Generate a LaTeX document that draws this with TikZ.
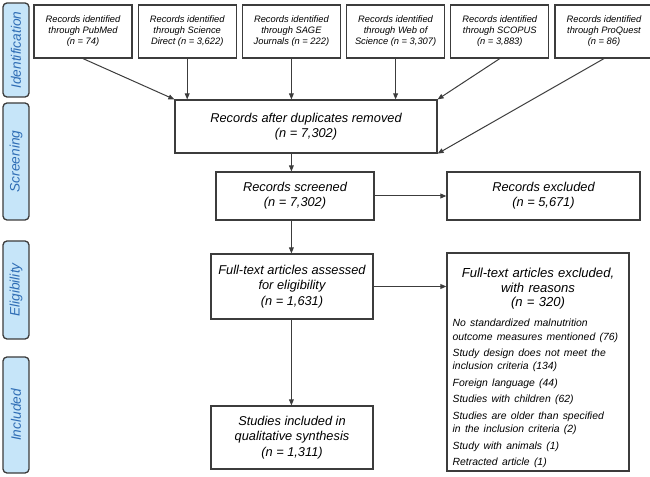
\documentclass[tikz,border=0pt]{standalone}
\usepackage{fontspec}
\setmainfont{Liberation Sans}
\usetikzlibrary{arrows.meta,positioning}

\definecolor{phasefill}{HTML}{C6E5F9}
\definecolor{phasetext}{HTML}{2F6DB5}
\definecolor{edgegray}{HTML}{3C3C3C}

\begin{document}
\begin{tikzpicture}[
    x = 0.75pt, y = -0.75pt, % one unit = one pixel of the layout
    node distance = 3.75pt, % gap between the source boxes
    line width = 0.75pt % line style
    ]

    \tikzset{
    box/.style = {draw = edgegray, line width = 0.9pt, fill = white,
      align = center, inner sep = 2pt,
      font = \itshape\fontsize{9.6}{11.5}\selectfont},
    source/.style = {box, minimum width = 73.5pt, minimum height = 39.75pt,
      font = \itshape\fontsize{7}{8.25}\selectfont},
    phase/.style = {draw = edgegray, line width = 1pt, fill = phasefill,
      rounded corners = 3pt, rotate = 90, minimum height = 19.5pt,
      text = phasetext, font = \itshape\fontsize{10.3}{12}\selectfont},
    link/.style = {-{Triangle[length=4.5pt,width=3.6pt]}, color = edgegray}
    }
    \useasboundingbox (0,0) rectangle (650,477);

    % phases
    \node[phase, minimum width = 70.5pt] (ident) at (16,50) {Identification};
    \node[phase, minimum width = 87.75pt] (screen) at (16,161.5) {Screening};
    \node[phase, minimum width = 73.5pt] (elig) at (16,290) {Eligibility};
    \node[phase, minimum width = 87pt] (incl) at (16,415) {Included};

    % sources
    \node[source] (pubmed) at (83,31.5) {Records identified\\through PubMed\\(n = 74)};
    \node[source] (scidirect) [right=of pubmed] {Records identified\\through Science\\Direct (n = 3,622)};
    \node[source] (sage) [right=of scidirect] {Records identified\\through SAGE\\Journals (n = 222)};
    \node[source] (wos) [right=of sage] {Records identified\\through Web of\\Science (n = 3,307)};
    \node[source] (scopus) [right=of wos] {Records identified\\through SCOPUS\\(n = 3,883)};
    \node[source] (proquest) [right=of scopus] {Records identified\\through ProQuest\\(n = 86)};

    % flow
    \node[box, minimum width = 196.5pt, minimum height = 39.75pt] (dup) at (306,126.5)
      {Records after duplicates removed\\(n = 7,302)};
    \node[box, minimum width = 118.5pt, minimum height = 36pt] (screened) at (295,196)
      {Records screened\\(n = 7,302)};
    \node[box, minimum width = 144.75pt, minimum height = 36pt] (excluded) at (543.5,196)
      {Records excluded\\(n = 5,671)};
    \node[box, minimum width = 121.5pt, minimum height = 48.75pt] (assessed) at (292,286.5)
      {Full-text articles assessed\\for eligibility\\(n = 1,631)};
    \node[box, minimum width = 121.5pt, minimum height = 47.25pt] (included) at (292,437.5)
      {Studies included in\\qualitative synthesis\\(n = 1,311)};
    \node[box, text width = 128pt, inner xsep = 4.25pt, minimum height = 163.5pt,
      align = left] (reasons) at (538,362) {%
      {\centering\fontsize{9.8}{10.8}\selectfont\rule{0pt}{16pt}Full-text articles excluded,\\with reasons\\(n = 320)\par}
      \vspace{5pt}
      {\fontsize{7.8}{10.1}\selectfont
      No standardized malnutrition\\outcome measures mentioned (76)\par\vspace{2.2pt}
      Study design does not meet the\\inclusion criteria (134)\par\vspace{2.2pt}
      Foreign language (44)\par\vspace{2.2pt}
      Studies with children (62)\par\vspace{2.2pt}
      Studies are older than specified\\in the inclusion criteria (2)\par\vspace{2.2pt}
      Study with animals (1)\par\vspace{2.2pt}
      Retracted article (1)\par}};

    \path[link] (pubmed.south) edge (dup.north west);
    \path[link] (scidirect) edge (scidirect |- dup.north);
    \path[link] (sage) edge (sage |- dup.north);
    \path[link] (wos) edge (wos |- dup.north);
    \path[link] (scopus.south) edge (dup.north east);
    \path[link] (proquest.south) edge (dup.south east);
    \path[link] (dup.south -| sage) edge (screened.north -| sage);
    \path[link] (screened) edge (excluded);
    \path[link] (screened.south -| sage) edge (assessed.north -| sage);
    \path[link] (assessed.east) edge (assessed.east -| reasons.west);
    \path[link] (assessed.south -| sage) edge (included.north -| sage);
\end{tikzpicture}
\end{document}
